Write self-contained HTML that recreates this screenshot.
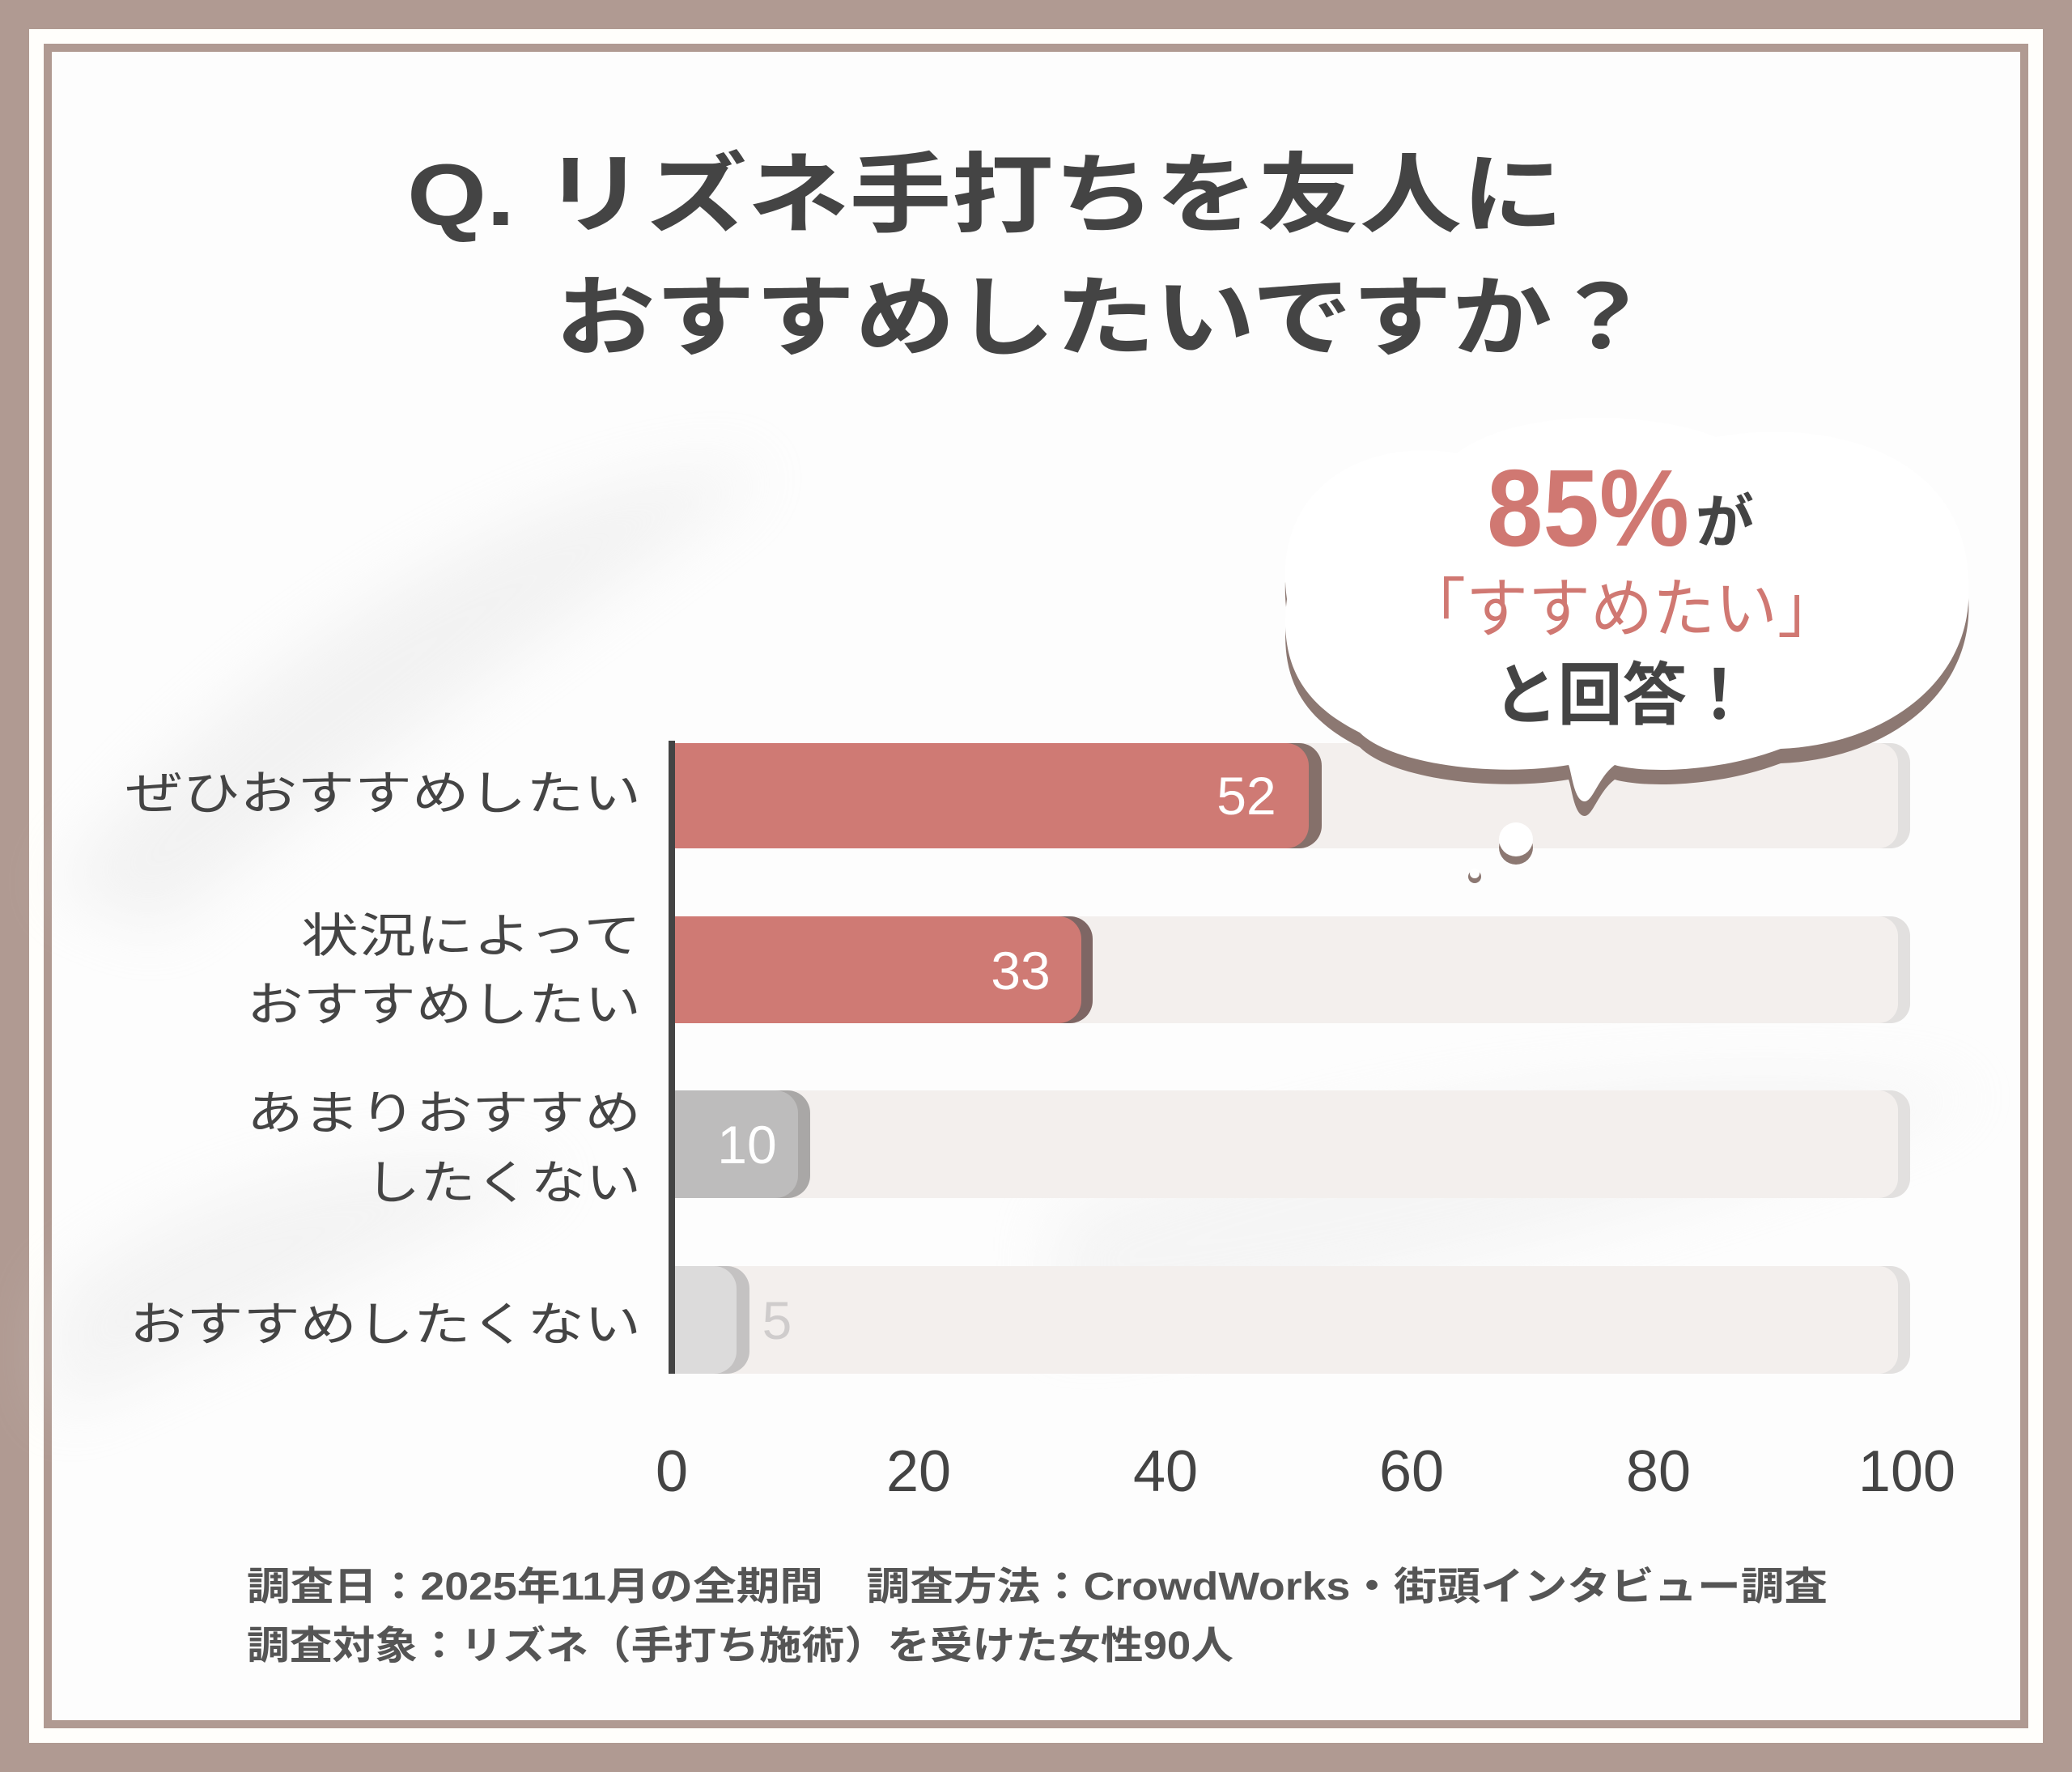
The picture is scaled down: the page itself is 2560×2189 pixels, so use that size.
<!DOCTYPE html>
<html><head><meta charset="utf-8"><style>
html,body{margin:0;padding:0;background:#fff;}
svg{display:block;}
text{font-family:"Liberation Sans","Noto Sans CJK JP",sans-serif;}
</style></head><body>
<svg width="2560" height="2189" viewBox="0 0 2560 2189" xmlns="http://www.w3.org/2000/svg">
<defs>
<filter id="blur" x="-50%" y="-50%" width="200%" height="200%"><feGaussianBlur stdDeviation="40"/></filter>
<clipPath id="cp"><rect x="830" y="0" width="1700" height="2189"/></clipPath>
</defs>
<rect width="2560" height="2189" fill="#b09a92"/>
<rect x="36" y="36" width="2488" height="2117" fill="#fffefb"/>
<rect x="54" y="54" width="2452" height="2081" fill="#b09a92"/>
<rect x="64" y="64" width="2432" height="2061" fill="#fdfdfd"/>
<g filter="url(#blur)" opacity="0.35">
<path d="M64,1100 C300,800 700,560 950,580 C800,700 500,900 200,1150 Z" fill="#dedede"/>
<path d="M64,1600 C250,1450 500,1400 700,1450 C500,1550 300,1650 64,1750 Z" fill="#e2e2e2"/>
<path d="M1300,1500 C1700,1350 2100,1300 2450,1350 C2100,1500 1700,1600 1300,1650 Z" fill="#e6e6e6"/>
</g>
<g fill="#444" font-weight="700" font-size="108">
<text x="503" y="278" textLength="1429" lengthAdjust="spacingAndGlyphs">Q. リズネ手打ちを友人に</text>
<text x="686" y="430" textLength="1355" lengthAdjust="spacingAndGlyphs">おすすめしたいですか？</text>
</g>
<g clip-path="url(#cp)">
<rect x="800" y="918" width="1560" height="130" rx="24" fill="#e2e0df"/>
<rect x="800" y="918" width="1545" height="130" rx="24" fill="#f3efed"/>
<rect x="800" y="1132" width="1560" height="132" rx="24" fill="#e2e0df"/>
<rect x="800" y="1132" width="1545" height="132" rx="24" fill="#f3efed"/>
<rect x="800" y="1347" width="1560" height="133" rx="24" fill="#e2e0df"/>
<rect x="800" y="1347" width="1545" height="133" rx="24" fill="#f3efed"/>
<rect x="800" y="1564" width="1560" height="133" rx="24" fill="#e2e0df"/>
<rect x="800" y="1564" width="1545" height="133" rx="24" fill="#f3efed"/>
<rect x="780" y="918" width="853" height="130" rx="28" fill="#85706a"/>
<rect x="780" y="918" width="837" height="130" rx="28" fill="#cf7a74"/>
<rect x="780" y="1132" width="570" height="132" rx="28" fill="#7e6664"/>
<rect x="780" y="1132" width="556" height="132" rx="28" fill="#cf7a74"/>
<rect x="780" y="1347" width="221" height="133" rx="28" fill="#a9a7a6"/>
<rect x="780" y="1347" width="206" height="133" rx="28" fill="#bdbcbc"/>
<rect x="780" y="1564" width="146" height="133" rx="28" fill="#c4c2c2"/>
<rect x="780" y="1564" width="130" height="133" rx="28" fill="#dcdbdb"/>
</g>
<rect x="826" y="915" width="8" height="782" fill="#444"/>
<g font-size="66" fill="#fff" text-anchor="middle">
<text x="1540" y="1006">52</text>
<text x="1261" y="1222">33</text>
<text x="923" y="1437">10</text>
<text x="960" y="1654" fill="#cfcccc">5</text>
</g>
<g fill="#444" font-size="58" text-anchor="end">
<text x="792" y="1000" textLength="637" lengthAdjust="spacingAndGlyphs">ぜひおすすめしたい</text>
<text x="792" y="1176" textLength="420" lengthAdjust="spacingAndGlyphs">状況によって</text>
<text x="792" y="1261" textLength="487" lengthAdjust="spacingAndGlyphs">おすすめしたい</text>
<text x="792" y="1395" textLength="487" lengthAdjust="spacingAndGlyphs">あまりおすすめ</text>
<text x="792" y="1481" textLength="341" lengthAdjust="spacingAndGlyphs">したくない</text>
<text x="792" y="1656" textLength="632" lengthAdjust="spacingAndGlyphs">おすすめしたくない</text>
</g>
<g fill="#444" font-size="72" text-anchor="middle">
<text x="830" y="1842">0</text>
<text x="1135" y="1842">20</text>
<text x="1440" y="1842">40</text>
<text x="1744" y="1842">60</text>
<text x="2049" y="1842">80</text>
<text x="2356" y="1842">100</text>
</g>
<g transform="translate(0,18)">
<path d="M1590,740 C1570,600 1690,540 1800,560 C1880,500 2050,510 2120,540 C2260,515 2430,560 2432,720 C2440,840 2330,920 2200,925 C2120,955 2030,955 1995,945 C1975,960 1968,990 1958,990 C1945,990 1942,955 1938,945 C1850,960 1720,945 1680,905 C1610,870 1580,820 1590,740 Z" fill="#8c7872"/>
</g>
<path d="M1590,740 C1570,600 1690,540 1800,560 C1880,500 2050,510 2120,540 C2260,515 2430,560 2432,720 C2440,840 2330,920 2200,925 C2120,955 2030,955 1995,945 C1975,960 1968,990 1958,990 C1945,990 1942,955 1938,945 C1850,960 1720,945 1680,905 C1610,870 1580,820 1590,740 Z" fill="#fff"/>
<circle cx="1873" cy="1047" r="21" fill="#8c7872"/>
<circle cx="1873" cy="1037" r="21" fill="#fff"/>
<circle cx="1822" cy="1083" r="8" fill="#8c7872"/>
<circle cx="1822" cy="1079" r="6" fill="#fff"/>
<text x="1837" y="674" font-size="135" font-weight="700" fill="#d07872" textLength="250" lengthAdjust="spacingAndGlyphs">85%</text>
<text x="2095" y="670" font-size="72" font-weight="700" fill="#444">が</text>
<text x="1734" y="780" font-size="80" fill="#d07872" textLength="539" lengthAdjust="spacingAndGlyphs">「すすめたい」</text>
<text x="1845" y="888" font-size="84" font-weight="700" fill="#444" textLength="319" lengthAdjust="spacingAndGlyphs">と回答！</text>
<g fill="#555" font-size="48" font-weight="700">
<text x="305" y="1976" textLength="1953" lengthAdjust="spacingAndGlyphs">調査日：2025年11月の全期間　調査方法：CrowdWorks・街頭インタビュー調査</text>
<text x="305" y="2049" textLength="1219" lengthAdjust="spacingAndGlyphs">調査対象：リズネ（手打ち施術）を受けた女性90人</text>
</g>
</svg>
</body></html>
